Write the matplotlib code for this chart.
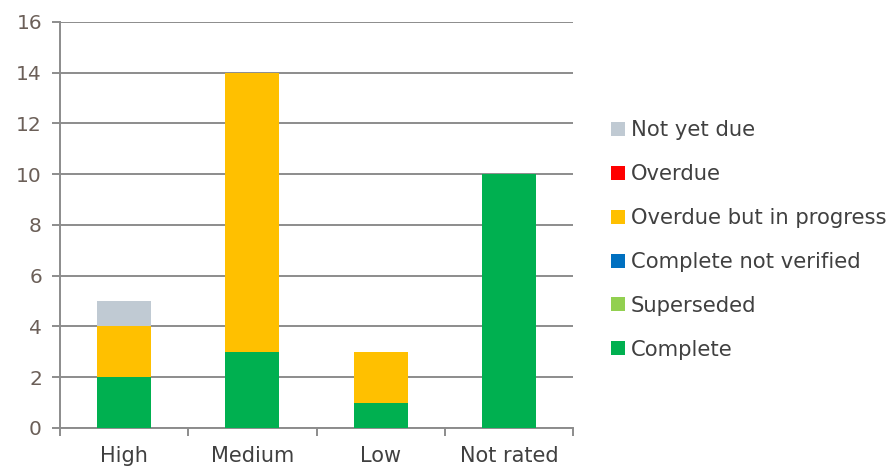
import numpy as np
import matplotlib.pyplot as plt
from matplotlib.patches import Patch

categories = ['High', 'Medium', 'Low', 'Not rated']

# stacked from the bottom up
complete = [2, 3, 1, 10]
superseded = [0, 0, 0, 0]
complete_not_verified = [0, 0, 0, 0]
overdue_in_progress = [2, 11, 2, 0]
overdue = [0, 0, 0, 0]
not_yet_due = [1, 0, 0, 0]

series = [
    ('Complete', complete, '#00B050'),
    ('Superseded', superseded, '#92D050'),
    ('Complete not verified', complete_not_verified, '#0070C0'),
    ('Overdue but in progress', overdue_in_progress, '#FFC000'),
    ('Overdue', overdue, '#FF0000'),
    ('Not yet due', not_yet_due, '#C0CAD3'),
]

fig = plt.figure(figsize=(8.93, 4.68), dpi=100)
ax = fig.add_axes([0.0672, 0.0855, 0.5745, 0.8675])

x = np.arange(len(categories))
bottom = np.zeros(len(categories))
for name, vals, col in series:
    ax.bar(x, vals, bottom=bottom, width=0.42, color=col, zorder=3)
    bottom += np.array(vals)

grid_col = '#8c8c8c'
ax.set_ylim(0, 16)
ax.set_xlim(-0.5, len(categories) - 0.5)
ax.set_yticks(range(0, 17, 2))
ax.yaxis.grid(True, color=grid_col, linewidth=1.4, zorder=0)

ax.set_xticks(x)
ax.set_xticklabels(categories)
ax.set_xticks(np.arange(-0.5, len(categories), 1), minor=True)
ax.tick_params(axis='x', which='major', length=0, pad=13, labelsize=15, labelcolor='#404040')
ax.tick_params(axis='x', which='minor', length=6, width=1.4, color=grid_col, direction='out')
ax.tick_params(axis='y', length=6, width=1.4, color=grid_col, direction='out',
               labelsize=14.5, labelcolor='#6b5f58', pad=7)

for s in ['top', 'right']:
    ax.spines[s].set_visible(False)
ax.spines['left'].set_color(grid_col)
ax.spines['left'].set_linewidth(1.4)
ax.spines['bottom'].set_color(grid_col)
ax.spines['bottom'].set_linewidth(1.4)

handles = [Patch(facecolor=col, label=name) for name, vals, col in series[::-1]]
fig.legend(handles=handles, loc='center left', bbox_to_anchor=(0.684, 0.487),
           frameon=False, fontsize=15.2, handlelength=0.65, handleheight=0.65,
           handletextpad=0.3, labelspacing=1.13, labelcolor='#404040',
           borderaxespad=0, borderpad=0)

fig.savefig('out.png', dpi=100)
